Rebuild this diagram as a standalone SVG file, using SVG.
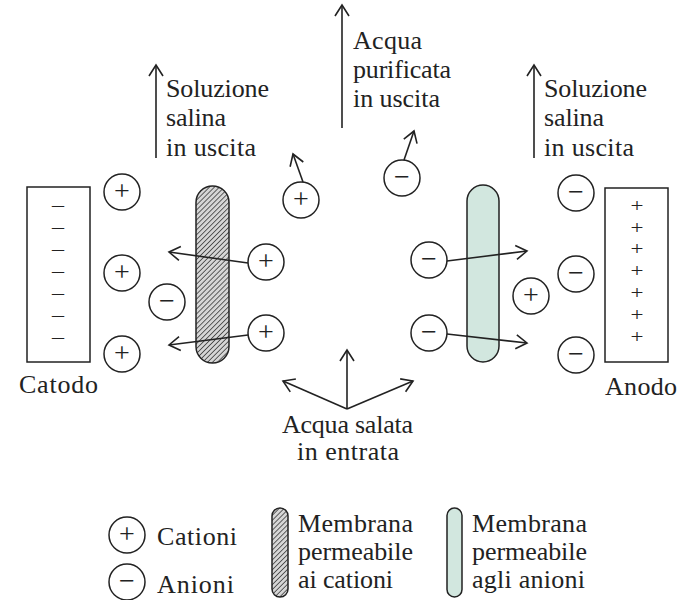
<svg xmlns="http://www.w3.org/2000/svg" width="687" height="600" viewBox="0 0 687 600">
<defs>
<style>
text{font-family:"Liberation Serif","Times New Roman",serif;fill:#222;font-size:26px}
.sg{font-size:28px;text-anchor:middle}
.bs{font-size:19px;text-anchor:middle}
.ion{fill:#fff;stroke:#222;stroke-width:1.5}
.ln{stroke:#222;stroke-width:1.6;fill:none}
.box{fill:#fff;stroke:#222;stroke-width:1.5}
.cm{fill:url(#hatch);stroke:#222;stroke-width:1.5}
.am{fill:#d2e7df;stroke:#222;stroke-width:1.5}
</style>
<pattern id="hatch" patternUnits="userSpaceOnUse" width="3.5" height="3.5" patternTransform="rotate(45)">
<rect width="3.5" height="3.5" fill="#d6d6d6"/>
<line x1="0" y1="0" x2="0" y2="3.5" stroke="#333" stroke-width="1.5"/>
</pattern>
<marker id="ah" markerUnits="userSpaceOnUse" markerWidth="16" markerHeight="18" refX="12" refY="8" orient="auto">
<path d="M1,1 L12,8 L1,15" fill="none" stroke="#222" stroke-width="1.6"/>
</marker>
</defs>

<g id="catodo">
<rect class="box" x="27" y="187" width="63" height="175"/>
<text class="bs" x="58" y="213" textLength="15" lengthAdjust="spacingAndGlyphs">−</text>
<text class="bs" x="58" y="235" textLength="15" lengthAdjust="spacingAndGlyphs">−</text>
<text class="bs" x="58" y="257" textLength="15" lengthAdjust="spacingAndGlyphs">−</text>
<text class="bs" x="58" y="279" textLength="15" lengthAdjust="spacingAndGlyphs">−</text>
<text class="bs" x="58" y="301" textLength="15" lengthAdjust="spacingAndGlyphs">−</text>
<text class="bs" x="58" y="323" textLength="15" lengthAdjust="spacingAndGlyphs">−</text>
<text class="bs" x="58" y="345" textLength="15" lengthAdjust="spacingAndGlyphs">−</text>
<text x="19" y="393" textLength="79" lengthAdjust="spacing">Catodo</text>
</g>

<g id="anodo">
<rect class="box" x="605" y="188" width="63" height="174"/>
<text class="bs" x="637" y="212" textLength="13" lengthAdjust="spacingAndGlyphs">+</text>
<text class="bs" x="637" y="234" textLength="13" lengthAdjust="spacingAndGlyphs">+</text>
<text class="bs" x="637" y="255" textLength="13" lengthAdjust="spacingAndGlyphs">+</text>
<text class="bs" x="637" y="277" textLength="13" lengthAdjust="spacingAndGlyphs">+</text>
<text class="bs" x="637" y="299" textLength="13" lengthAdjust="spacingAndGlyphs">+</text>
<text class="bs" x="637" y="321" textLength="13" lengthAdjust="spacingAndGlyphs">+</text>
<text class="bs" x="637" y="343" textLength="13" lengthAdjust="spacingAndGlyphs">+</text>
<text x="605" y="395" textLength="72" lengthAdjust="spacing">Anodo</text>
</g>

<g id="membrana-cationi">
<rect class="cm" x="196" y="186" width="33" height="177" rx="16.5"/>
</g>
<g id="membrana-anioni">
<rect class="am" x="467" y="185" width="32" height="177" rx="16"/>
</g>

<g id="connectors">
<line class="ln" x1="156" y1="158" x2="156" y2="65" marker-end="url(#ah)"/>
<line class="ln" x1="342" y1="128" x2="342" y2="5" marker-end="url(#ah)"/>
<line class="ln" x1="534" y1="158" x2="534" y2="65" marker-end="url(#ah)"/>
<line class="ln" x1="303" y1="182" x2="293" y2="154" marker-end="url(#ah)"/>
<line class="ln" x1="404" y1="160" x2="414" y2="131" marker-end="url(#ah)"/>
<line class="ln" x1="248" y1="263" x2="169" y2="252" marker-end="url(#ah)"/>
<line class="ln" x1="248" y1="335" x2="169" y2="345" marker-end="url(#ah)"/>
<line class="ln" x1="447" y1="261" x2="527" y2="251" marker-end="url(#ah)"/>
<line class="ln" x1="447" y1="334" x2="527" y2="343" marker-end="url(#ah)"/>
<line class="ln" x1="347" y1="409" x2="347" y2="350" marker-end="url(#ah)"/>
<line class="ln" x1="347" y1="409" x2="283" y2="381" marker-end="url(#ah)"/>
<line class="ln" x1="347" y1="409" x2="413" y2="381" marker-end="url(#ah)"/>
</g>

<g id="ioni">
<g id="c1"><circle class="ion" cx="122" cy="192" r="18"/><text class="sg" x="122" y="200">+</text></g>
<g id="c2"><circle class="ion" cx="122" cy="273" r="18"/><text class="sg" x="122" y="281">+</text></g>
<g id="c3"><circle class="ion" cx="122" cy="354" r="18"/><text class="sg" x="122" y="362">+</text></g>
<g id="a1"><circle class="ion" cx="167" cy="302" r="18"/><text class="sg" x="167" y="310">−</text></g>
<g id="c4"><circle class="ion" cx="266" cy="262" r="18"/><text class="sg" x="266" y="270">+</text></g>
<g id="c5"><circle class="ion" cx="266" cy="333" r="18"/><text class="sg" x="266" y="341">+</text></g>
<g id="c6"><circle class="ion" cx="301" cy="200" r="18"/><text class="sg" x="301" y="208">+</text></g>
<g id="a2"><circle class="ion" cx="402" cy="178" r="18"/><text class="sg" x="402" y="186">−</text></g>
<g id="a3"><circle class="ion" cx="429" cy="260" r="18"/><text class="sg" x="429" y="268">−</text></g>
<g id="a4"><circle class="ion" cx="429" cy="333" r="18"/><text class="sg" x="429" y="341">−</text></g>
<g id="c7"><circle class="ion" cx="531" cy="296" r="18"/><text class="sg" x="531" y="304">+</text></g>
<g id="a5"><circle class="ion" cx="576" cy="193" r="18"/><text class="sg" x="576" y="201">−</text></g>
<g id="a6"><circle class="ion" cx="576" cy="274" r="18"/><text class="sg" x="576" y="282">−</text></g>
<g id="a7"><circle class="ion" cx="576" cy="355" r="18"/><text class="sg" x="576" y="363">−</text></g>
</g>

<g id="label-sol-sx">
<text x="166" y="97" textLength="103" lengthAdjust="spacing">Soluzione</text>
<text x="166" y="126" textLength="60" lengthAdjust="spacing">salina</text>
<text x="166" y="156" textLength="90" lengthAdjust="spacing">in uscita</text>
</g>
<g id="label-acqua-pura">
<text x="353" y="49" textLength="69" lengthAdjust="spacing">Acqua</text>
<text x="353" y="78" textLength="98" lengthAdjust="spacing">purificata</text>
<text x="353" y="107" textLength="87" lengthAdjust="spacing">in uscita</text>
</g>
<g id="label-sol-dx">
<text x="544" y="97" textLength="103" lengthAdjust="spacing">Soluzione</text>
<text x="544" y="126" textLength="60" lengthAdjust="spacing">salina</text>
<text x="544" y="156" textLength="90" lengthAdjust="spacing">in uscita</text>
</g>
<g id="label-acqua-salata">
<text x="282" y="433" textLength="131" lengthAdjust="spacing">Acqua salata</text>
<text x="297" y="460" textLength="102" lengthAdjust="spacing">in entrata</text>
</g>

<g id="legenda">
<g id="leg-cationi"><circle class="ion" cx="127" cy="535" r="18"/><text class="sg" x="127" y="543">+</text>
<text x="157" y="545" textLength="80" lengthAdjust="spacing">Cationi</text></g>
<g id="leg-anioni"><circle class="ion" cx="127" cy="582" r="18"/><text class="sg" x="127" y="590">−</text>
<text x="157" y="593" textLength="77" lengthAdjust="spacing">Anioni</text></g>
<g id="leg-mem-cat"><rect class="cm" x="272" y="508" width="16" height="89" rx="8"/>
<text x="298" y="532" textLength="115" lengthAdjust="spacing">Membrana</text>
<text x="298" y="560" textLength="115" lengthAdjust="spacing">permeabile</text>
<text x="298" y="588" textLength="95" lengthAdjust="spacing">ai cationi</text></g>
<g id="leg-mem-an"><rect class="am" x="447" y="508" width="15" height="89" rx="7.5"/>
<text x="472" y="532" textLength="115" lengthAdjust="spacing">Membrana</text>
<text x="472" y="560" textLength="115" lengthAdjust="spacing">permeabile</text>
<text x="472" y="588" textLength="113" lengthAdjust="spacing">agli anioni</text></g>
</g>
</svg>
